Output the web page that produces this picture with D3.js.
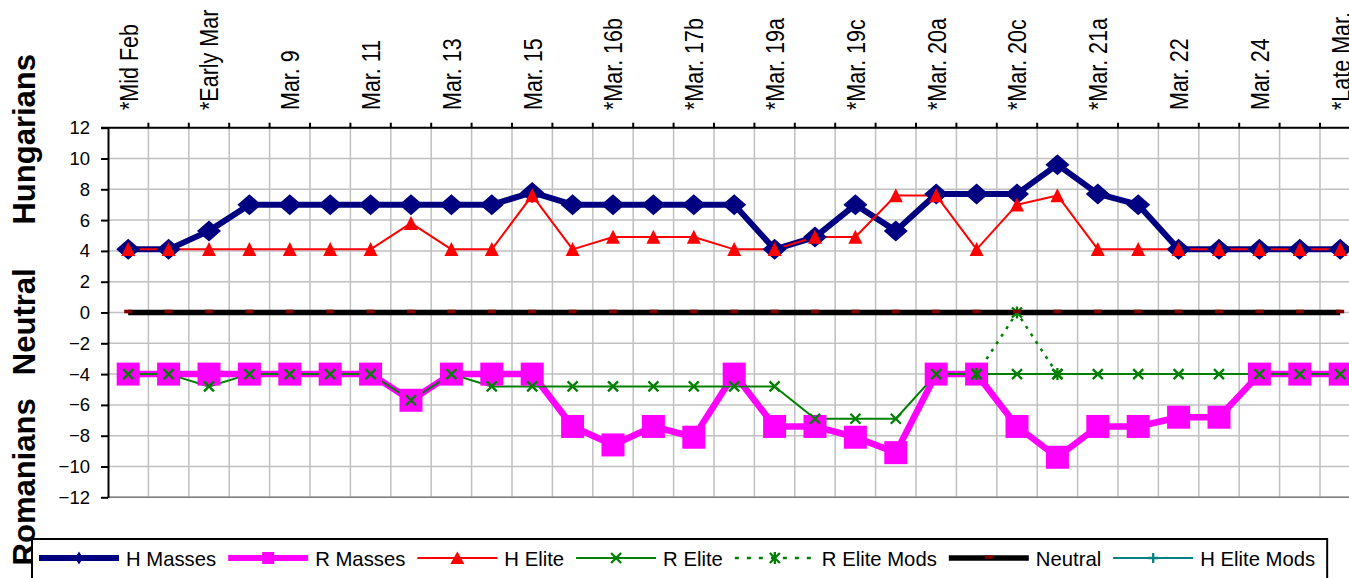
<!DOCTYPE html>
<html>
<head>
<meta charset="utf-8">
<script src="https://cdn.jsdelivr.net/npm/d3@7"></script>
<style>
  html, body { margin: 0; padding: 0; background: #fff; overflow: hidden; }
  svg { display: block; font-family: Arial, "Liberation Sans", sans-serif; }
</style>
</head>
<body>
<svg id="chart" width="1349" height="578"></svg>
<script>
// categories (only every other one gets a visible label, like the original)
const categories = ['*Mid Feb', '*Late Feb', '*Early Mar', 'Mar. 8', 'Mar. 9', 'Mar. 10', 'Mar. 11', 'Mar. 12',
  'Mar. 13', 'Mar. 14', 'Mar. 15', '*Mar. 16a', '*Mar. 16b', '*Mar. 17a', '*Mar. 17b', 'Mar. 18',
  '*Mar. 19a', '*Mar. 19b', '*Mar. 19c', '*Mar. 19d', '*Mar. 20a', '*Mar. 20b', '*Mar. 20c', '*Mar. 20d',
  '*Mar. 21a', '*Mar. 21b', 'Mar. 22', 'Mar. 23', 'Mar. 24', 'Mar. 25', '*Late Mar.']

const hMasses = [4.1, 4.1, 5.3, 7.0, 7.0, 7.0, 7.0, 7.0, 7.0, 7.0, 7.8, 7.0, 7.0, 7.0, 7.0, 7.0,
  4.1, 4.9, 7.0, 5.3, 7.7, 7.7, 7.7, 9.6, 7.7, 7.0, 4.1, 4.1, 4.1, 4.1, 4.1]
const rMasses = [-4, -4, -4, -4, -4, -4, -4, -5.7, -4, -4, -4, -7.4, -8.6, -7.4, -8.1, -4,
  -7.4, -7.4, -8.1, -9.1, -4, -4, -7.4, -9.4, -7.4, -7.4, -6.8, -6.8, -4, -4, -4]
const hElite = [4.1, 4.1, 4.1, 4.1, 4.1, 4.1, 4.1, 5.8, 4.1, 4.1, 7.6, 4.1, 4.9, 4.9, 4.9, 4.1,
  4.1, 4.9, 4.9, 7.6, 7.6, 4.1, 7.0, 7.6, 4.1, 4.1, 4.1, 4.1, 4.1, 4.1, 4.1]
const rElite = [-4, -4, -4.8, -4, -4, -4, -4, -5.7, -4, -4.8, -4.8, -4.8, -4.8, -4.8, -4.8, -4.8,
  -4.8, -6.9, -6.9, -6.9, -4, -4, -4, -4, -4, -4, -4, -4, -4, -4, -4]
const rEliteMods = [null, null, null, null, null, null, null, null, null, null, null, null, null, null, null, null,
  null, null, null, null, null, -4, 0, -4, null, null, null, null, null, null, null]
const neutral = [0, 0, 0, 0, 0, 0, 0, 0, 0, 0, 0, 0, 0, 0, 0, 0,
  0, 0, 0, 0, 0, 0, 0, 0, 0, 0, 0, 0, 0, 0, 0]
const hEliteMods = []

const yTicks = [-12, -10, -8, -6, -4, -2, 0, 2, 4, 6, 8, 10, 12]
const sideTitles = [
  { text: 'Hungarians', value: 11.25 },
  { text: 'Neutral', value: -0.6 },
  { text: 'Romanians', value: -11 }
]

// series styling, in the order the legend lists them
const series = [
  { name: 'H Masses', values: hMasses, color: '#000080', width: 6, marker: 'diamond' },
  { name: 'R Masses', values: rMasses, color: '#ff00ff', width: 6.5, marker: 'square' },
  { name: 'H Elite', values: hElite, color: '#ff0000', width: 2, marker: 'triangle' },
  { name: 'R Elite', values: rElite, color: '#008000', width: 2, marker: 'cross' },
  { name: 'R Elite Mods', values: rEliteMods, color: '#008000', width: 2.5, dash: '3,6', marker: 'star' },
  { name: 'Neutral', values: neutral, color: '#000000', width: 5.5, marker: 'dash', markerColor: '#800000' },
  { name: 'H Elite Mods', values: hEliteMods, color: '#008080', width: 2, marker: 'plus' }
]

const svg = d3.select('#chart')
const plotLeft = 108
const plotTop = 127.7
const plotBottom = 497.3
const band = 40.4

const x = d3.scaleBand()
  .domain(categories)
  .range([plotLeft, plotLeft + band * categories.length])
const y = d3.scaleLinear().domain([-12, 12]).range([plotBottom, plotTop])
const cx = c => x(c) + x.bandwidth() / 2

// gridlines
const grid = svg.append('g')
grid.selectAll('line.h')
  .data(yTicks)
  .enter().append('line')
  .attr('x1', plotLeft).attr('x2', x.range()[1])
  .attr('y1', d => y(d)).attr('y2', d => y(d))
  .style('stroke', '#c0c0c0').style('stroke-width', 1.5)
grid.selectAll('line.v')
  .data(categories.slice(1))
  .enter().append('line')
  .attr('x1', d => x(d)).attr('x2', d => x(d))
  .attr('y1', plotTop).attr('y2', plotBottom)
  .style('stroke', '#c0c0c0').style('stroke-width', 1.5)

// bottom border of the plot area
svg.append('line')
  .attr('x1', plotLeft).attr('x2', x.range()[1])
  .attr('y1', plotBottom).attr('y2', plotBottom)
  .style('stroke', '#808080').style('stroke-width', 1.5)

// y axis
const yAxis = svg.append('g')
  .attr('transform', `translate(${plotLeft},0)`)
  .call(d3.axisLeft(y).tickValues(yTicks).tickSize(7).tickPadding(11).tickSizeOuter(0))
yAxis.attr('font-family', null)
yAxis.select('.domain').style('stroke', '#000').style('stroke-width', 2)
yAxis.selectAll('.tick line').style('stroke', '#000').style('stroke-width', 2)
yAxis.selectAll('.tick text')
  .style('font-size', '18.5px')
  .style('fill', '#000')

// x axis on top: line, ticks at band edges, rotated labels on every other category
svg.append('line')
  .attr('x1', plotLeft - 7).attr('x2', x.range()[1])
  .attr('y1', plotTop).attr('y2', plotTop)
  .style('stroke', '#000').style('stroke-width', 2)
svg.selectAll('line.xtick')
  .data(categories.slice(1))
  .enter().append('line')
  .attr('x1', d => x(d)).attr('x2', d => x(d))
  .attr('y1', plotTop - 5).attr('y2', plotTop)
  .style('stroke', '#000').style('stroke-width', 2)
svg.append('g').selectAll('text')
  .data(categories.filter((d, i) => i % 2 === 0))
  .enter().append('text')
  .attr('transform', d => `translate(${cx(d)},110) rotate(-90) scale(1,1.2)`)
  .attr('text-anchor', 'start')
  .attr('dy', '0.36em')
  .style('font-size', '21.5px')
  .text(d => d)

// side titles
svg.append('g').selectAll('text')
  .data(sideTitles)
  .enter().append('text')
  .attr('transform', d => `translate(35,${y(d.value)}) rotate(-90)`)
  .attr('text-anchor', 'middle')
  .style('font-size', '31px')
  .style('font-weight', 'bold')
  .text(d => d.text)

// marker shapes
function markerPath (type, small) {
  switch (type) {
    case 'diamond': {
      const w = small ? 8 : 24
      const h = small ? 13 : 21
      return `M0,${-h / 2}L${w / 2},0L0,${h / 2}L${-w / 2},0Z`
    }
    case 'square': {
      const s = (small ? 12 : 23) / 2
      return `M${-s},${-s}H${s}V${s}H${-s}Z`
    }
    case 'triangle': {
      const w = 14
      const h = small ? 12 : 13.5
      return `M0,${-h / 2 - 0.5}L${w / 2},${h / 2}L${-w / 2},${h / 2}Z`
    }
    case 'cross':
      return 'M-5,-5L5,5M-5,5L5,-5'
    case 'star':
      return 'M-5,-5L5,5M-5,5L5,-5M0,-6V6'
    case 'plus':
      return 'M-5,0H5M0,-5V5'
    case 'dash':
      return 'M-4,-2.8H4V0.8H-4Z'
  }
  return ''
}
const filled = { diamond: true, square: true, triangle: true, dash: true }

function drawMarker (g, s, px, py, small) {
  const p = g.append('path')
    .attr('d', markerPath(s.marker, small))
    .attr('transform', `translate(${px},${py})`)
  const mc = s.markerColor || s.color
  if (filled[s.marker]) {
    p.style('fill', mc).style('stroke', 'none')
  } else {
    p.style('fill', 'none').style('stroke', mc).style('stroke-width', 2.3)
  }
}

// lines first, markers on top (as Excel does)
const line = d3.line()
  .defined(d => d.v !== null && d.v !== undefined)
  .x(d => cx(d.c))
  .y(d => y(d.v))

const plot = svg.append('g')
series.forEach(s => {
  const pts = s.values.map((v, i) => ({ c: categories[i], v: v }))
  plot.append('path')
    .datum(pts)
    .attr('d', line)
    .style('fill', 'none')
    .style('stroke', s.color)
    .style('stroke-width', s.width)
    .style('stroke-linejoin', 'round')
    .style('stroke-dasharray', s.dash || null)
})
series.forEach(s => {
  s.values.forEach((v, i) => {
    if (v === null || v === undefined) return
    drawMarker(plot, s, cx(categories[i]), y(v), false)
  })
})

// legend
const legend = svg.append('g')
const box = legend.append('rect')
  .attr('x', 32).attr('y', 539)
  .attr('height', 60)
  .style('fill', '#fff').style('stroke', '#000').style('stroke-width', 2)
const ly = 558
let lx = 39
series.forEach(s => {
  legend.append('line')
    .attr('x1', lx).attr('x2', lx + 80)
    .attr('y1', ly).attr('y2', ly)
    .style('stroke', s.color)
    .style('stroke-width', Math.min(s.width, 6))
    .style('stroke-dasharray', s.dash ? '4,8' : null)
  drawMarker(legend, s, lx + 40, ly, true)
  const t = legend.append('text')
    .attr('x', lx + 87).attr('y', ly + 7.5)
    .style('font-size', '20.3px')
    .text(s.name)
  lx = lx + 87 + t.node().getComputedTextLength() + 12
})
box.attr('width', lx - 32)
</script>
</body>
</html>
